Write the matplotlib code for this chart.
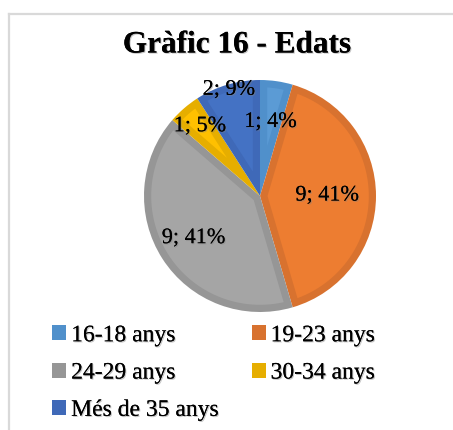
import numpy as np
import matplotlib
matplotlib.use("Agg")
import matplotlib.pyplot as plt
import matplotlib.patheffects as pe
from matplotlib.patches import Patch, Polygon
from matplotlib.lines import Line2D

plt.rcParams['font.family'] = ['Liberation Serif', 'DejaVu Serif']

# data
labels = ['16-18 anys', '19-23 anys', '24-29 anys', '30-34 anys', 'Més de 35 anys']
counts = [1, 9, 9, 1, 2]
pcts = ['4%', '41%', '41%', '5%', '9%']   # as printed on the chart
fills = ['#5B9BD5', '#ED7D31', '#A5A5A5', '#FFC000', '#4472C4']
edges = ['#5090CB', '#D8722F', '#969696', '#E6AE00', '#3F69B8']
label_dist = [0.64, 0.58, 0.68, 0.79, 0.95]

W, H = 453, 430
fig = plt.figure(figsize=(W / 100, H / 100), dpi=100)

# light chart-area border (left and top edges visible)
fig.add_artist(Line2D([9 / W, 9 / W], [0, 1 - 14 / H], color='#D9D9D9', lw=1.6))
fig.add_artist(Line2D([9 / W, 1], [1 - 14 / H, 1 - 14 / H], color='#D9D9D9', lw=1.6))

shadow = [pe.withSimplePatchShadow(offset=(0.8, -0.8), shadow_rgbFace='#808080', alpha=0.45), pe.Normal()]

fig.text(237 / W, 1 - 45 / H, 'Gràfic 16 - Edats', ha='center', va='center',
         fontsize=22.5, fontweight='bold', path_effects=shadow)

cx, cy, r = 260, 196, 116
ax = fig.add_axes([(cx - r) / W, (H - cy - r) / H, 2 * r / W, 2 * r / H])
wedges, _ = ax.pie(counts, colors=edges, startangle=90, counterclock=False,
                   wedgeprops=dict(linewidth=0))

# lighter inner fill inset from the wedge outline (Excel-like border band)
band = 0.062
for w, fc in zip(wedges, fills):
    t1, t2 = w.theta1, w.theta2
    half = np.deg2rad(t2 - t1) / 2
    mid = np.deg2rad(t1 + t2) / 2
    a = band / np.sin(half)
    da = np.arcsin(band / (1 - band))
    th = np.linspace(np.deg2rad(t1) + da, np.deg2rad(t2) - da, 60)
    pts = [(a * np.cos(mid), a * np.sin(mid))] + list(zip((1 - band) * np.cos(th), (1 - band) * np.sin(th)))
    ax.add_patch(Polygon(pts, closed=True, facecolor=fc, edgecolor='none'))

for w, n, p, d in zip(wedges, counts, pcts, label_dist):
    ang = np.deg2rad((w.theta1 + w.theta2) / 2)
    ax.text(d * np.cos(ang), d * np.sin(ang), f'{n}; {p}', ha='center', va='center',
            fontsize=16, path_effects=shadow)
ax.set_xlim(-1, 1)
ax.set_ylim(-1, 1)
ax.axis('off')

handles = [Patch(facecolor=c, edgecolor='none') for c in edges]
order = [0, 2, 4, 1, 3]
leg = fig.legend([handles[i] for i in order], [labels[i] for i in order],
                 ncol=2, loc='upper left', bbox_to_anchor=(31 / W, 1 - 304 / H),
                 frameon=False, fontsize=17, handlelength=0.6, handleheight=0.6,
                 handletextpad=0.2, columnspacing=1.4, labelspacing=0.69)
for t in leg.get_texts():
    t.set_path_effects(shadow)

fig.savefig('out.png', dpi=100)
